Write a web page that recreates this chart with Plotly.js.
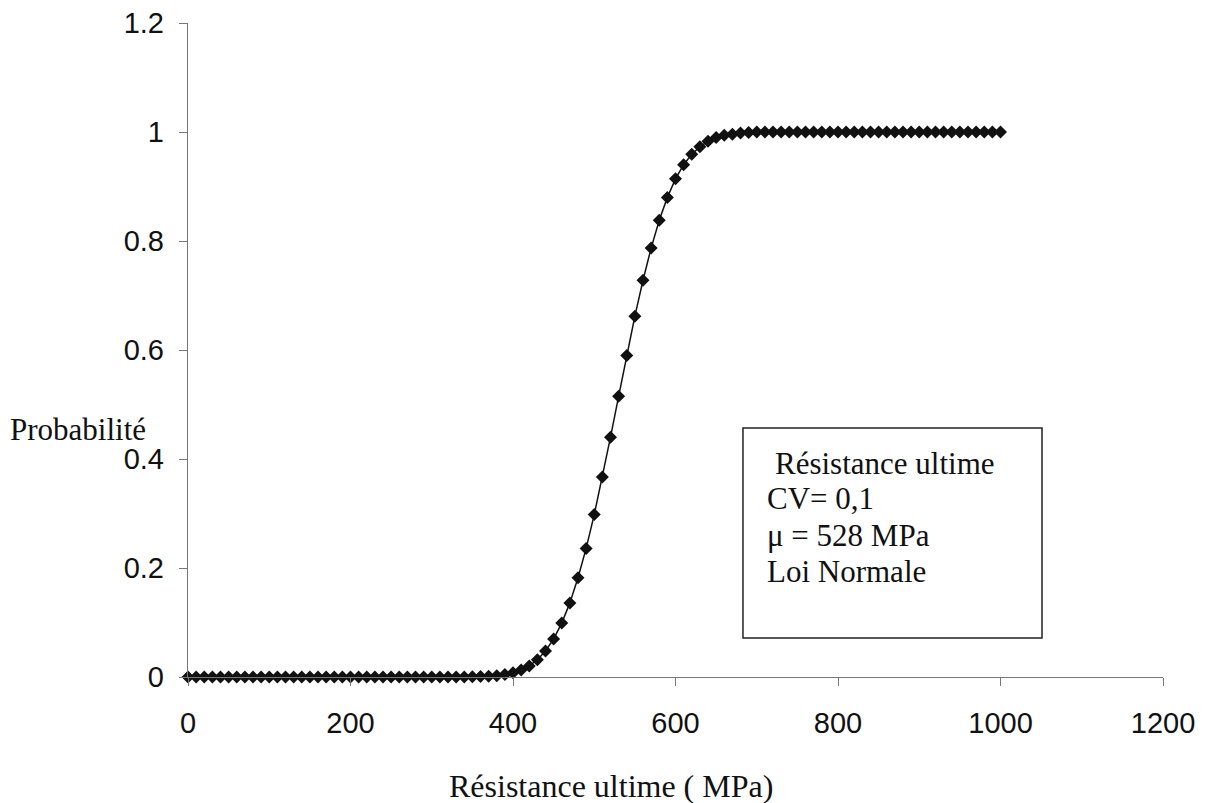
<!DOCTYPE html>
<html>
<head>
<meta charset="utf-8">
<script src="https://cdn.plot.ly/plotly-3.0.1.min.js"></script>
<style>html,body{margin:0;padding:0;background:#fff;}#chart{width:1210px;height:803px;}</style>
</head>
<body>
<div id="chart"></div>
<script>
// Résistance ultime (MPa)
const resistance = [0,10,20,30,40,50,60,70,80,90,100,110,120,130,140,150,160,170,180,190,200,210,220,230,240,250,260,270,280,290,300,310,320,330,340,350,360,370,380,390,400,410,420,430,440,450,460,470,480,490,500,510,520,530,540,550,560,570,580,590,600,610,620,630,640,650,660,670,680,690,700,710,720,730,740,750,760,770,780,790,800,810,820,830,840,850,860,870,880,890,900,910,920,930,940,950,960,970,980,990,1000];
// Probabilité
const probabilite = [0,0,0,0,0,0,0,0,0,0,0,0,0,0,0,0,0,0,0,0,0,0,0,0,0,0,0,0,0,0,0,0,0,0,0.0001,0.0003,0.0007,0.0014,0.0025,0.0045,0.0077,0.0127,0.0204,0.0317,0.0478,0.0698,0.0989,0.136,0.182,0.236,0.298,0.367,0.440,0.515,0.590,0.662,0.728,0.787,0.838,0.880,0.914,0.940,0.959,0.973,0.983,0.990,0.994,0.996,0.998,0.999,1,1,1,1,1,1,1,1,1,1,1,1,1,1,1,1,1,1,1,1,1,1,1,1,1,1,1,1,1,1,1];
const xTicks = [0,200,400,600,800,1000,1200];
const yTicks = [0,0.2,0.4,0.6,0.8,1,1.2];
const yTickText = ['0','0.2','0.4','0.6','0.8','1','1.2'];
const boxLines = ['Résistance ultime','CV= 0,1','μ = 528 MPa','Loi Normale'];

const serif = 'Liberation Serif, Times New Roman, serif';
const sans = 'Liberation Sans, Arial, sans-serif';

const trace = {
  x: resistance, y: probabilite, type: 'scatter', mode: 'lines+markers',
  line: {color: '#111', width: 1.5},
  marker: {symbol: 'diamond', size: 10, color: '#111'},
  cliponaxis: false, showlegend: false
};

const lineX = [0.600, 0.5918, 0.5918, 0.5918];
const lineY = [0.3272, 0.2737, 0.2156, 0.1606];
const annotations = boxLines.map((t, i) => ({
  text: t, xref: 'paper', yref: 'paper', x: lineX[i], y: lineY[i],
  xanchor: 'left', yanchor: 'middle', showarrow: false,
  font: {family: serif, size: 31, color: '#111'}
}));
annotations.push({
  text: 'Probabilité', xref: 'paper', yref: 'paper', x: -0.1846, y: 0.3777,
  xanchor: 'left', yanchor: 'middle', showarrow: false,
  font: {family: serif, size: 31, color: '#111'}
});
annotations.push({
  text: 'Résistance ultime ( MPa)', xref: 'paper', yref: 'paper', x: 0.4338, y: -0.1667,
  xanchor: 'center', yanchor: 'middle', showarrow: false,
  font: {family: serif, size: 32, color: '#111'}
});

const layout = {
  width: 1210, height: 803,
  margin: {l: 188, r: 47, t: 23, b: 126, pad: 0},
  paper_bgcolor: '#fff', plot_bgcolor: '#fff',
  xaxis: {
    range: [0, 1200], tickvals: xTicks, ticks: 'outside', ticklen: 8, tickcolor: '#777',
    showline: true, linecolor: '#777', linewidth: 1.2, showgrid: false, zeroline: false,
    tickfont: {family: sans, size: 29, color: '#111'}, ticklabelstandoff: 12
  },
  yaxis: {
    range: [0, 1.2], tickvals: yTicks, ticktext: yTickText, ticks: 'outside', ticklen: 8, tickcolor: '#777',
    showline: true, linecolor: '#777', linewidth: 1.2, showgrid: false, zeroline: false,
    tickfont: {family: sans, size: 29, color: '#111'}, ticklabelstandoff: 9
  },
  shapes: [{
    type: 'rect', xref: 'paper', yref: 'paper', x0: 0.5692, x1: 0.8759, y0: 0.0596, y1: 0.3807,
    line: {color: '#222', width: 1.5}, fillcolor: 'rgba(0,0,0,0)'
  }],
  annotations: annotations
};

Plotly.newPlot('chart', [trace], layout, {displayModeBar: false, staticPlot: true});
</script>
</body>
</html>
